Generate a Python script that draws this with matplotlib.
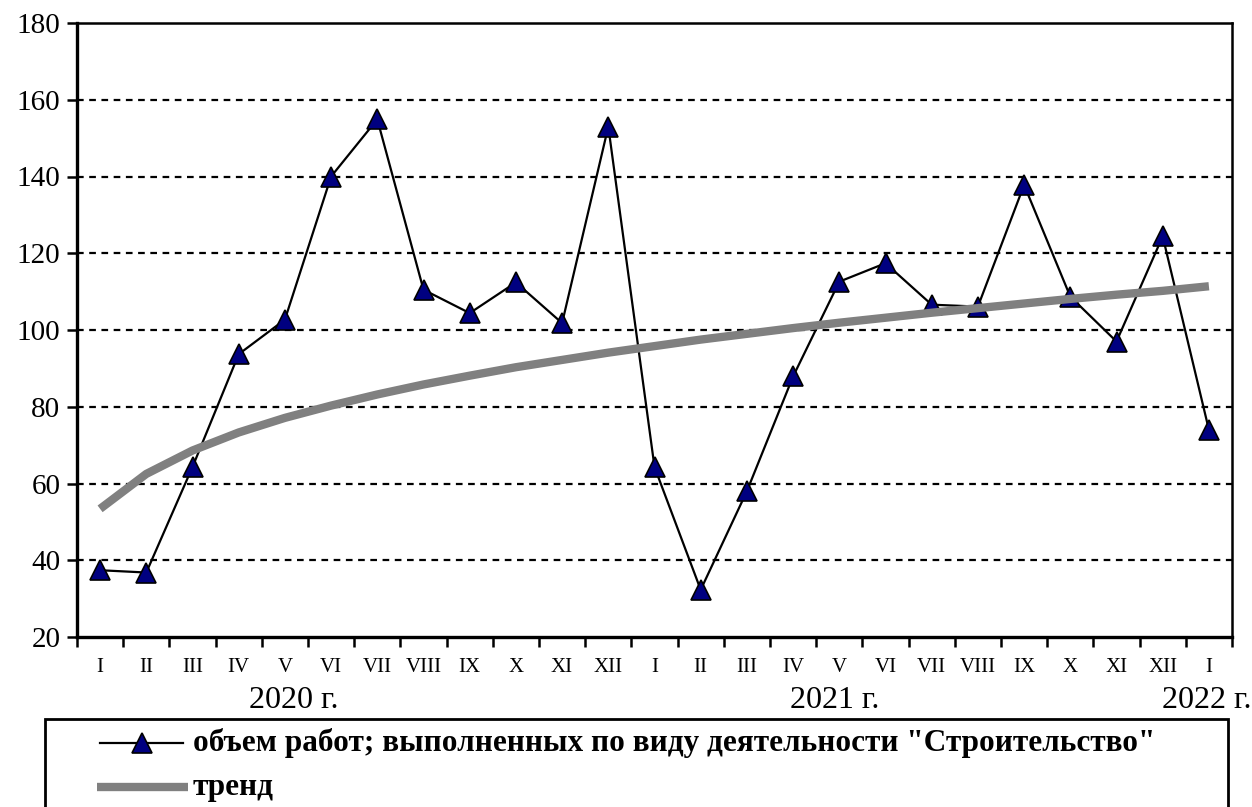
import matplotlib
matplotlib.use("Agg")
import matplotlib.pyplot as plt
from matplotlib.lines import Line2D
from matplotlib.patches import Rectangle

months = ["I", "II", "III", "IV", "V", "VI", "VII", "VIII", "IX", "X", "XI", "XII",
          "I", "II", "III", "IV", "V", "VI", "VII", "VIII", "IX", "X", "XI", "XII", "I"]
volume = [37.4, 36.8, 64.3, 93.7, 102.7, 140.0, 154.9, 110.5, 104.4, 112.4, 101.8, 153.0,
          64.3, 32.3, 58.0, 87.9, 112.6, 117.4, 106.6, 106.1, 137.8, 108.7, 97.0, 124.4, 74.0]
trend = [53.4, 62.5, 68.6, 73.3, 77.1, 80.3, 83.2, 85.8, 88.1, 90.3, 92.2, 94.1,
         95.8, 97.5, 99.0, 100.5, 101.9, 103.2, 104.5, 105.7, 106.9, 108.1, 109.2, 110.2, 111.4]
years = ["2020 г.", "2021 г.", "2022 г."]
series_label = "объем работ; выполненных по виду деятельности \"Строительство\""
trend_label = "тренд"

plt.rcParams["font.family"] = ["Liberation Serif", "DejaVu Serif"]

fig = plt.figure(figsize=(12.52, 8.07), dpi=100)
ax = fig.add_axes([77 / 1252, 1 - 637 / 807, (1232 - 77) / 1252, (637 - 23) / 807])

x = list(range(1, len(months) + 1))
ax.plot(x, volume, color="black", lw=1.6, marker="^", ms=14,
        markerfacecolor="#000080", markeredgecolor="black", mew=1.2, zorder=3)
ax.plot(x, trend, color="#808080", lw=6, solid_capstyle="butt",
        solid_joinstyle="round", zorder=4)

ax.set_xlim(0.5, len(months) + 0.5)
ax.set_ylim(20, 180)
ax.set_yticks(range(20, 181, 20))
ax.tick_params(axis="y", direction="out", length=7, width=1.8, labelsize=21, pad=5)

# category boundaries carry the tick marks, labels sit in the middle
ax.set_xticks([i + 0.5 for i in range(0, len(months) + 1)])
ax.set_xticklabels([])
ax.set_xticks(x, minor=True)
ax.set_xticklabels(months, minor=True, fontsize=15)
ax.tick_params(axis="x", which="major", direction="out", length=7, width=1.8)
ax.tick_params(axis="x", which="minor", length=0, pad=15)

for v in range(40, 180, 20):
    ax.axhline(v, color="black", lw=1.6, ls=(0, (3, 2.5)), zorder=1)

for s in ax.spines.values():
    s.set_color("black")
    s.set_linewidth(1.8)
ax.spines["left"].set_linewidth(2.4)
ax.spines["bottom"].set_linewidth(2.4)

fig.text(294 / 1252, 1 - 701 / 807, years[0], ha="center", va="center", fontsize=23)
fig.text(835 / 1252, 1 - 701 / 807, years[1], ha="center", va="center", fontsize=23)
fig.text(1251 / 1252, 1 - 701 / 807, years[2], ha="right", va="center", fontsize=23)

# legend box, its lower edge runs off the figure
fig.patches.append(Rectangle((45 / 1252, -0.05), (1228 - 45) / 1252, 1 - 719 / 807 + 0.05,
                             transform=fig.transFigure, fill=False, ec="black", lw=2))
y1 = 1 - 743 / 807
y2 = 1 - 787 / 807
fig.add_artist(Line2D([100 / 1252, 183 / 1252], [y1, y1], color="black", lw=1.6,
                      transform=fig.transFigure))
fig.add_artist(Line2D([142 / 1252], [y1], marker="^", ms=14, markerfacecolor="#000080",
                      markeredgecolor="black", mew=1.2, transform=fig.transFigure))
fig.add_artist(Line2D([97 / 1252, 188 / 1252], [y2, y2], color="#808080", lw=6,
                      solid_capstyle="butt", transform=fig.transFigure))
fig.text(193 / 1252, y1, series_label, ha="left", va="center", fontsize=22.5, fontweight="bold")
fig.text(193 / 1252, y2, trend_label, ha="left", va="center", fontsize=22.5, fontweight="bold")

fig.savefig("out.png", dpi=100)
